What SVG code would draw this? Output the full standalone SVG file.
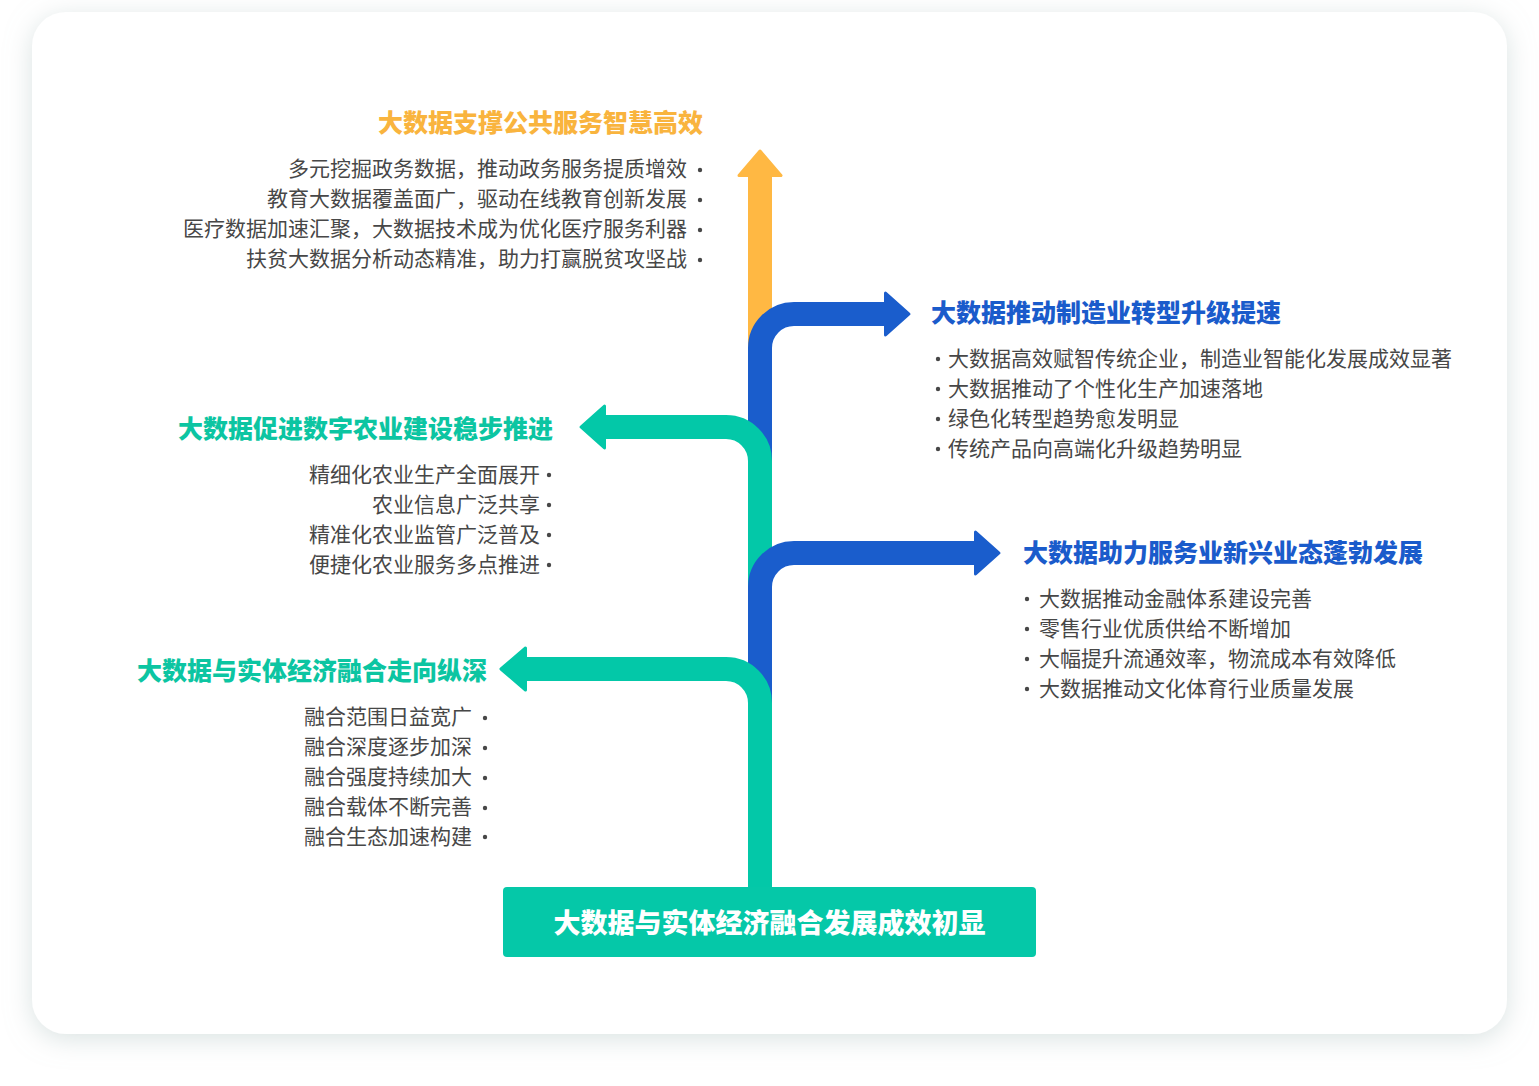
<svg xmlns="http://www.w3.org/2000/svg" width="1539" height="1086" viewBox="0 0 1539 1086">
  <defs>
    <filter id="cardShadow" x="-10%" y="-10%" width="120%" height="120%">
      <feDropShadow dx="0" dy="5" stdDeviation="13" flood-color="#b5c6c4" flood-opacity="0.5"/>
    </filter>
    <style>
      .title { font-family: "Noto Sans CJK SC", "Noto Sans", sans-serif; font-size: 25px; font-weight: 900; }
      .item { font-family: "Noto Sans CJK SC", "Noto Sans", sans-serif; font-size: 21px; fill: #474747; }
      .dot { fill: #474747; }
      .orange { fill: #F9B43E; }
      .blue { fill: #1A5BCB; }
      .green { fill: #0CC5A2; }
      .shaft { fill: none; stroke-width: 24; stroke-linecap: butt; stroke-linejoin: round; }
      .head { stroke-width: 3; stroke-linejoin: round; }
      .c-o { stroke: #FFB843; }
      .c-b { stroke: #1A5DCC; }
      .c-g { stroke: #03C8A8; }
      .f-o { fill: #FFB843; }
      .f-b { fill: #1A5DCC; }
      .f-g { fill: #03C8A8; }
      .boxtext { font-family: "Noto Sans CJK SC", "Noto Sans", sans-serif; font-size: 27px; font-weight: 900; fill: #ffffff; }
    </style>
  </defs>

  <rect x="0" y="0" width="1539" height="1086" fill="#ffffff"/>
  <rect x="32" y="12" width="1475" height="1022" rx="34" ry="34" fill="#ffffff" filter="url(#cardShadow)"/>

  <g id="connectors">
    <!-- orange: public services (up) -->
    <path class="shaft c-o" d="M760,887 V174"/>
    <polygon class="head f-o c-o" points="760,151 781,175.5 739,175.5"/>
    <!-- blue 1: manufacturing (right) -->
    <path class="shaft c-b" d="M760,887 V348 A34,34 0 0 1 794,314 H886"/>
    <polygon class="head f-b c-b" points="885.5,293 909,314 885.5,335"/>
    <!-- green 1: agriculture (left) -->
    <path class="shaft c-g" d="M760,887 V461 A34,34 0 0 0 726,427 H604"/>
    <polygon class="head f-g c-g" points="604.5,406 581,427 604.5,448"/>
    <!-- blue 2: services (right) -->
    <path class="shaft c-b" d="M760,887 V587 A34,34 0 0 1 794,553 H976"/>
    <polygon class="head f-b c-b" points="975.5,532 999,553 975.5,574"/>
    <!-- green 2: integration (left) -->
    <path class="shaft c-g" d="M760,887 V703 A34,34 0 0 0 726,669 H525"/>
    <polygon class="head f-g c-g" points="525.5,648 501,669 525.5,690"/>
  </g>

  <g id="node-root">
    <rect x="503" y="887" width="533" height="70" rx="4" ry="4" fill="#05C8A8"/>
    <text class="boxtext" x="769.5" y="933" text-anchor="middle">大数据与实体经济融合发展成效初显</text>
  </g>

  <g id="node-public-services">
    <text class="title orange" x="703" y="132" text-anchor="end">大数据支撑公共服务智慧高效</text>
    <text class="item" x="687" y="176" text-anchor="end">多元挖掘政务数据，推动政务服务提质增效</text>
    <text class="item" x="687" y="206" text-anchor="end">教育大数据覆盖面广，驱动在线教育创新发展</text>
    <text class="item" x="687" y="236" text-anchor="end">医疗数据加速汇聚，大数据技术成为优化医疗服务利器</text>
    <text class="item" x="687" y="266" text-anchor="end">扶贫大数据分析动态精准，助力打赢脱贫攻坚战</text>
    <circle class="dot" cx="700" cy="170" r="2.2"/>
    <circle class="dot" cx="700" cy="200" r="2.2"/>
    <circle class="dot" cx="700" cy="230" r="2.2"/>
    <circle class="dot" cx="700" cy="260" r="2.2"/>
  </g>

  <g id="node-manufacturing">
    <text class="title blue" x="931" y="322">大数据推动制造业转型升级提速</text>
    <circle class="dot" cx="938" cy="359" r="2.2"/>
    <circle class="dot" cx="938" cy="389" r="2.2"/>
    <circle class="dot" cx="938" cy="419" r="2.2"/>
    <circle class="dot" cx="938" cy="449" r="2.2"/>
    <text class="item" x="948" y="366">大数据高效赋智传统企业，制造业智能化发展成效显著</text>
    <text class="item" x="948" y="396">大数据推动了个性化生产加速落地</text>
    <text class="item" x="948" y="426">绿色化转型趋势愈发明显</text>
    <text class="item" x="948" y="456">传统产品向高端化升级趋势明显</text>
  </g>

  <g id="node-agriculture">
    <text class="title green" x="553" y="438" text-anchor="end">大数据促进数字农业建设稳步推进</text>
    <text class="item" x="540" y="482" text-anchor="end">精细化农业生产全面展开</text>
    <text class="item" x="540" y="512" text-anchor="end">农业信息广泛共享</text>
    <text class="item" x="540" y="542" text-anchor="end">精准化农业监管广泛普及</text>
    <text class="item" x="540" y="572" text-anchor="end">便捷化农业服务多点推进</text>
    <circle class="dot" cx="549" cy="475" r="2.2"/>
    <circle class="dot" cx="549" cy="505" r="2.2"/>
    <circle class="dot" cx="549" cy="535" r="2.2"/>
    <circle class="dot" cx="549" cy="565" r="2.2"/>
  </g>

  <g id="node-services">
    <text class="title blue" x="1023" y="562">大数据助力服务业新兴业态蓬勃发展</text>
    <circle class="dot" cx="1027" cy="599" r="2.2"/>
    <circle class="dot" cx="1027" cy="629" r="2.2"/>
    <circle class="dot" cx="1027" cy="659" r="2.2"/>
    <circle class="dot" cx="1027" cy="689" r="2.2"/>
    <text class="item" x="1039" y="606">大数据推动金融体系建设完善</text>
    <text class="item" x="1039" y="636">零售行业优质供给不断增加</text>
    <text class="item" x="1039" y="666">大幅提升流通效率，物流成本有效降低</text>
    <text class="item" x="1039" y="696">大数据推动文化体育行业质量发展</text>
  </g>

  <g id="node-integration">
    <text class="title green" x="487" y="680" text-anchor="end">大数据与实体经济融合走向纵深</text>
    <text class="item" x="472" y="724" text-anchor="end">融合范围日益宽广</text>
    <text class="item" x="472" y="754" text-anchor="end">融合深度逐步加深</text>
    <text class="item" x="472" y="784" text-anchor="end">融合强度持续加大</text>
    <text class="item" x="472" y="814" text-anchor="end">融合载体不断完善</text>
    <text class="item" x="472" y="844" text-anchor="end">融合生态加速构建</text>
    <circle class="dot" cx="485" cy="718" r="2.2"/>
    <circle class="dot" cx="485" cy="748" r="2.2"/>
    <circle class="dot" cx="485" cy="778" r="2.2"/>
    <circle class="dot" cx="485" cy="808" r="2.2"/>
    <circle class="dot" cx="485" cy="837" r="2.2"/>
  </g>
</svg>
